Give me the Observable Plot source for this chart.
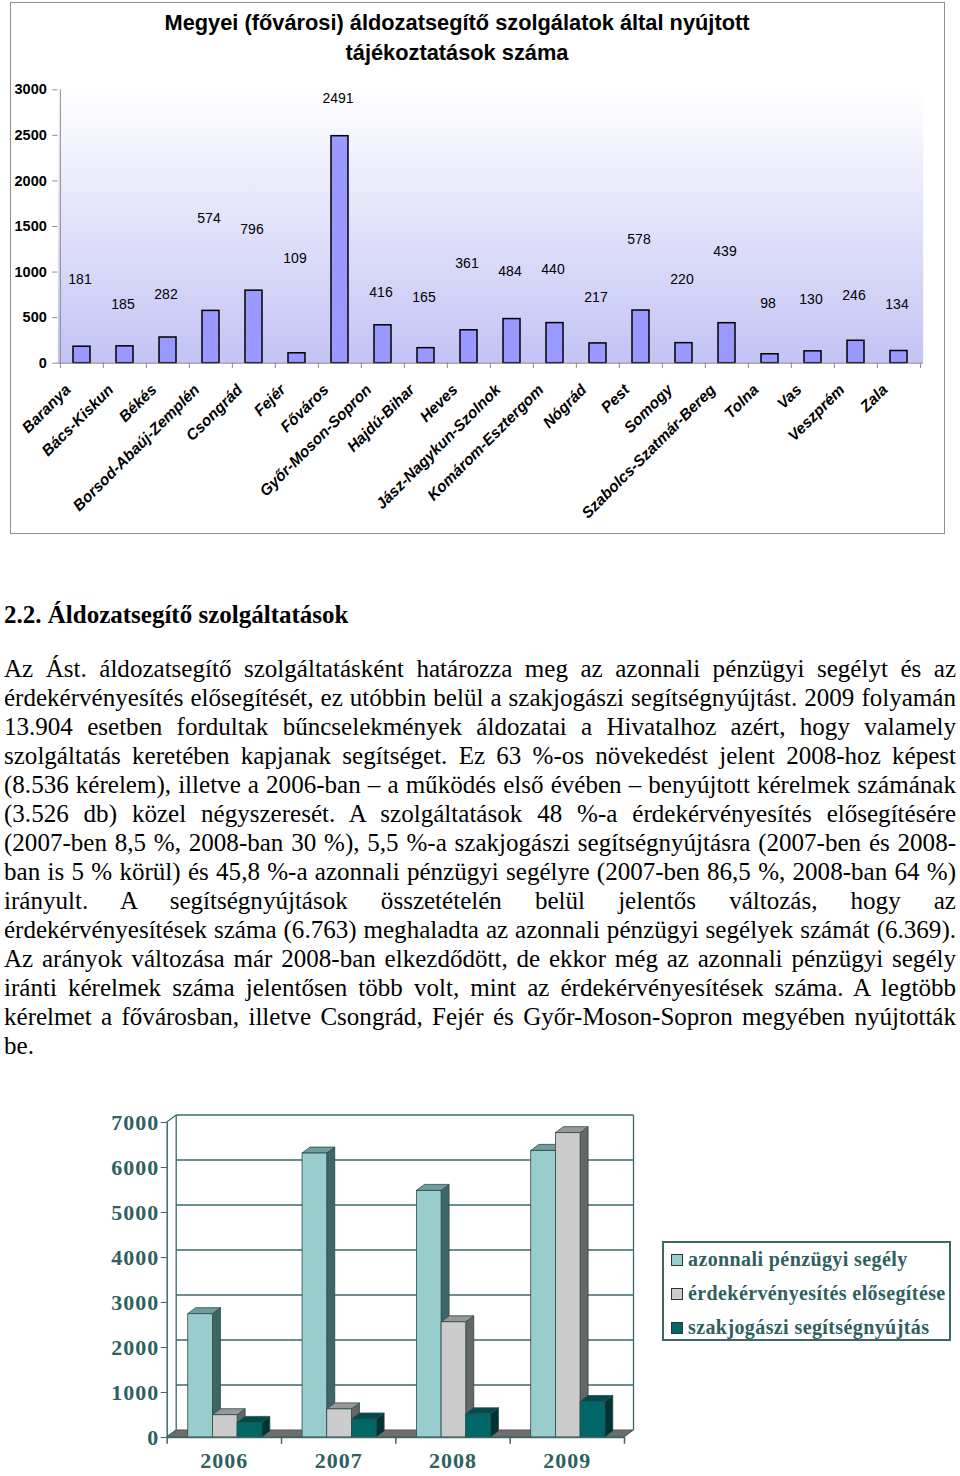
<!DOCTYPE html>
<html><head><meta charset="utf-8">
<script src="https://cdn.jsdelivr.net/npm/d3@7"></script>
<script src="https://cdn.jsdelivr.net/npm/@observablehq/plot@0.6"></script>
<style>
body{margin:0;background:#fff;width:960px;height:1476px;position:relative;overflow:hidden;}
#box1{position:absolute;left:10px;top:2px;width:933px;height:530px;border:1.5px solid #8f8f8f;}
#title1{position:absolute;left:100px;width:714px;top:8px;text-align:center;font:bold 21.8px "Liberation Sans",Arial,sans-serif;line-height:30px;color:#000;}
#c1{position:absolute;left:0;top:0;}
#c2{position:absolute;left:100px;top:1100px;}
#c2 text{letter-spacing:1px;}
#heading{position:absolute;left:4px;top:600px;font:bold 25px "Liberation Serif","Times New Roman",serif;line-height:29px;white-space:nowrap;}
.ln{position:absolute;left:4px;width:952px;font-family:"Liberation Serif","Times New Roman",serif;font-size:22px;line-height:29px;white-space:nowrap;}
#legend{position:absolute;left:662px;top:1241px;width:285px;height:96px;border:2px solid #3d6868;}
.li{position:absolute;left:7px;font:bold 20px "Liberation Serif","Times New Roman",serif;color:#2f6060;white-space:nowrap;line-height:22px;letter-spacing:0.4px;}
.sw{display:inline-block;width:10px;height:10px;border:1px solid #333;margin-right:5px;vertical-align:0px;}
</style></head><body>
<div id="box1"></div>
<div id="title1">Megyei (fővárosi) áldozatsegítő szolgálatok által nyújtott<br>tájékoztatások száma</div>
<div id="c1"></div>
<div id="heading">2.2. Áldozatsegítő szolgáltatások</div>
<div id="para"></div>
<div id="c2"></div>
<div id="legend"></div>
<script>
// ---------- Chart 1 data ----------
const counties = ["Baranya","Bács-Kiskun","Békés","Borsod-Abaúj-Zemplén","Csongrád","Fejér","Főváros","Győr-Moson-Sopron","Hajdú-Bihar","Heves","Jász-Nagykun-Szolnok","Komárom-Esztergom","Nógrád","Pest","Somogy","Szabolcs-Szatmár-Bereg","Tolna","Vas","Veszprém","Zala"];
const counts = [181,185,282,574,796,109,2491,416,165,361,484,440,217,578,220,439,98,130,246,134];
// where each value label sits in the original (in chart units)
const labelAt = [915,644,754,1584,1464,1152,2905,779,724,1091,1010,1025,724,1361,915,1222,658,702,746,644];
const yTicks1 = [0,500,1000,1500,2000,2500,3000];

// ---------- Chart 2 data ----------
const years = ["2006","2007","2008","2009"];
const seriesNames = ["azonnali pénzügyi segély","érdekérvényesítés elősegítése","szakjogászi segítségnyújtás"];
const aid = [2740,6310,5480,6369];
const advocacy = [495,625,2560,6763];
const legal = [325,400,515,790];
const yTicks2 = [0,1000,2000,3000,4000,5000,6000,7000];

// ---------- Paragraph ----------
const paraLines = [
"Az Ást. áldozatsegítő szolgáltatásként határozza meg az azonnali pénzügyi segélyt és az",
"érdekérvényesítés elősegítését, ez utóbbin belül a szakjogászi segítségnyújtást. 2009 folyamán",
"13.904 esetben fordultak bűncselekmények áldozatai a Hivatalhoz azért, hogy valamely",
"szolgáltatás keretében kapjanak segítséget. Ez 63 %-os növekedést jelent 2008-hoz képest",
"(8.536 kérelem), illetve a 2006-ban – a működés első évében – benyújtott kérelmek számának",
"(3.526 db) közel négyszeresét. A szolgáltatások 48 %-a érdekérvényesítés elősegítésére",
"(2007-ben 8,5 %, 2008-ban 30 %), 5,5 %-a szakjogászi segítségnyújtásra (2007-ben és 2008-",
"ban is 5 % körül) és 45,8 %-a azonnali pénzügyi segélyre (2007-ben 86,5 %, 2008-ban 64 %)",
"irányult. A segítségnyújtások összetételén belül jelentős változás, hogy az",
"érdekérvényesítések száma (6.763) meghaladta az azonnali pénzügyi segélyek számát (6.369).",
"Az arányok változása már 2008-ban elkezdődött, de ekkor még az azonnali pénzügyi segély",
"iránti kérelmek száma jelentősen több volt, mint az érdekérvényesítések száma. A legtöbb",
"kérelmet a fővárosban, illetve Csongrád, Fejér és Győr-Moson-Sopron megyében nyújtották",
"be."
];

// ===== Chart 1 =====
const W1 = 960, H1 = 540, ML1 = 57.3, MR1 = 37.3, MT1 = 89.3, MB1 = 177.3;
const step1 = (W1 - ML1 - MR1) / counties.length;
const data1 = counties.map((c, i) => ({c, v: counts[i], l: labelAt[i]}));
const grad = () => {
  const g = d3.create("svg:g");
  const lg = g.append("defs").append("linearGradient").attr("id", "bg1")
    .attr("x1", 0).attr("y1", 0).attr("x2", 0).attr("y2", 1);
  lg.append("stop").attr("offset", "0%").attr("stop-color", "#ffffff");
  lg.append("stop").attr("offset", "100%").attr("stop-color", "#c3c3f5");
  return g.node();
};
const chart1 = Plot.plot({
  width: W1, height: H1,
  marginLeft: ML1, marginRight: MR1, marginTop: MT1, marginBottom: MB1,
  style: {fontFamily: "'Liberation Sans', Arial, sans-serif", background: "transparent", overflow: "visible"},
  x: {type: "band", domain: counties, paddingInner: 0.6, paddingOuter: 0.3, axis: null},
  y: {domain: [0, 3000], axis: null},
  marks: [
    grad,
    Plot.frame({fill: "url(#bg1)", stroke: null}),
    Plot.barY(data1, {x: "c", y: "v", fill: "#9999ff", stroke: "#000", strokeWidth: 1.5}),
    Plot.text(data1, {x: "c", y: "l", text: d => String(d.v), fontSize: 14, fill: "#000", dx: -2}),
    Plot.ruleY([0], {stroke: "#8a8a8a", strokeWidth: 1}),
    Plot.ruleX(counties.slice(0, 1), {x: d => d, dx: -step1 / 2, y1: 0, y2: 3000, stroke: "#8a8a8a"}),
    Plot.ruleX(counties, {x: d => d, dx: -step1 / 2, y1: 0, y2: -60, stroke: "#8a8a8a"}),
    Plot.ruleX(counties.slice(-1), {x: d => d, dx: step1 / 2, y1: 0, y2: -60, stroke: "#8a8a8a"}),
    Plot.axisY({ticks: yTicks1, tickSize: 5, tickPadding: 6, fontSize: 14.5, fontWeight: "bold", stroke: "#8a8a8a", fill: "#000", tickFormat: d => String(d), label: null}),
    Plot.text(counties, {x: d => d, y: () => 0, text: d => d, rotate: -45, textAnchor: "end", lineAnchor: "middle", dx: -14, dy: 24, fontSize: 15.5, fontStyle: "italic", fontWeight: "bold", fill: "#000"})
  ]
});
document.getElementById("c1").appendChild(chart1);

// ===== Paragraph =====
const para = document.getElementById("para");
const spans = [];
paraLines.forEach((t, i) => {
  const d = document.createElement("div");
  d.className = "ln";
  d.style.top = (654 + i * 29) + "px";
  const s = document.createElement("span");
  s.textContent = t;
  d.appendChild(s);
  para.appendChild(d);
  spans.push([d, s, t]);
});
const maxW = Math.max(...spans.map(([d, s]) => s.getBoundingClientRect().width));
const fs = 22 * 946 / maxW;
spans.forEach(([d, s, t], i) => {
  d.style.fontSize = fs + "px";
  if (i < paraLines.length - 1) {
    const w = s.getBoundingClientRect().width;
    const spaces = (t.match(/ /g) || []).length;
    if (spaces) d.style.wordSpacing = ((952 - w) / spaces) + "px";
  }
});

// ===== Chart 2 =====
const W2 = 560, H2 = 376, ML2 = 66.7, MR2 = 36, MT2 = 22, MB2 = 39;
const ink = "#2f6060";
const series = [
  {vals: aid, front: "#99cccc", side: "#3f6666", top: "#6f9c9c"},
  {vals: advocacy, front: "#cccccc", side: "#666666", top: "#999999"},
  {vals: legal, front: "#006666", side: "#003333", top: "#004c4c"}
];
const OFF = 0.184, BW = 0.216;
const DX = 9.5, DY = -7, BDX = 8, BDY = -6;
const bars3d = (index, {x, y}) => {
  const g = d3.create("svg:g");
  const X0 = x(0), X1 = x(years.length), Y0 = y(0), YT = y(yTicks2[yTicks2.length - 1]);
  g.append("path").attr("d", `M${X0},${Y0}L${X1},${Y0}L${X1 + DX},${Y0 + DY}L${X0 + DX},${Y0 + DY}Z`)
    .attr("fill", "#6e6e6e").attr("stroke", "#555").attr("stroke-width", 1);
  for (const t of yTicks2.slice(1)) {
    g.append("line").attr("x1", X0 + DX).attr("x2", X1 + DX).attr("y1", y(t) + DY).attr("y2", y(t) + DY)
      .attr("stroke", "#3d6868").attr("stroke-width", 1.3);
  }
  g.append("line").attr("x1", X0 + DX).attr("x2", X0 + DX).attr("y1", Y0 + DY).attr("y2", YT + DY).attr("stroke", "#3d6868").attr("stroke-width", 1.3);
  g.append("line").attr("x1", X1 + DX).attr("x2", X1 + DX).attr("y1", Y0 + DY).attr("y2", YT + DY).attr("stroke", "#3d6868").attr("stroke-width", 1.3);
  g.append("line").attr("x1", X0).attr("x2", X0 + DX).attr("y1", YT).attr("y2", YT + DY).attr("stroke", "#3d6868").attr("stroke-width", 1.3);
  g.append("line").attr("x1", X0).attr("x2", X0 + DX).attr("y1", Y0).attr("y2", Y0 + DY).attr("stroke", "#3d6868").attr("stroke-width", 1.3);
  years.forEach((yr, i) => {
    series.forEach((s, k) => {
      const fx0 = x(i + OFF + k * BW), fx1 = x(i + OFF + (k + 1) * BW), fy = y(s.vals[i]);
      g.append("path").attr("d", `M${fx1},${Y0}L${fx1},${fy}L${fx1 + BDX},${fy + BDY}L${fx1 + BDX},${Y0 + BDY}Z`)
        .attr("fill", s.side).attr("stroke", "#2a4a4a").attr("stroke-width", 0.8);
      g.append("path").attr("d", `M${fx0},${fy}L${fx1},${fy}L${fx1 + BDX},${fy + BDY}L${fx0 + BDX},${fy + BDY}Z`)
        .attr("fill", s.top).attr("stroke", "#2a4a4a").attr("stroke-width", 0.8);
      g.append("rect").attr("x", fx0).attr("y", fy).attr("width", fx1 - fx0).attr("height", Y0 - fy)
        .attr("fill", s.front).attr("stroke", "#2a4a4a").attr("stroke-width", 0.8);
    });
  });
  return g.node();
};
const chart2 = Plot.plot({
  width: W2, height: H2,
  marginLeft: ML2, marginRight: MR2, marginTop: MT2, marginBottom: MB2,
  style: {fontFamily: "'Liberation Serif', 'Times New Roman', serif", background: "transparent", overflow: "visible"},
  x: {domain: [0, years.length]},
  y: {domain: [0, 7000]},
  marks: [
    bars3d,
    Plot.ruleY([0], {stroke: "#3d6868", strokeWidth: 1.5}),
    Plot.ruleX([0], {y1: 0, y2: 7000, stroke: "#3d6868", strokeWidth: 1.5}),
    Plot.ruleX(d3.range(years.length + 1), {x: d => d, y1: 0, y2: -150, stroke: "#3d6868", strokeWidth: 1.5}),
    Plot.axisY({ticks: yTicks2, tickSize: 6, tickPadding: 2, fontSize: 22, fontWeight: "bold", stroke: "#3d6868", fill: ink, tickFormat: d => String(d), label: null}),
    Plot.axisX({ticks: years.map((_, i) => i + 0.5), tickFormat: d => years[Math.floor(d)], tickSize: 0, tickPadding: 15, fontSize: 22, fontWeight: "bold", fill: ink, label: null})
  ]
});
document.getElementById("c2").appendChild(chart2);

// legend
const legend = document.getElementById("legend");
seriesNames.forEach((n, k) => {
  const d = document.createElement("div");
  d.className = "li";
  d.style.top = (5 + k * 34) + "px";
  d.innerHTML = `<span class="sw" style="background:${series[k].front}"></span>`;
  d.appendChild(document.createTextNode(n));
  legend.appendChild(d);
});
</script>
</body></html>
